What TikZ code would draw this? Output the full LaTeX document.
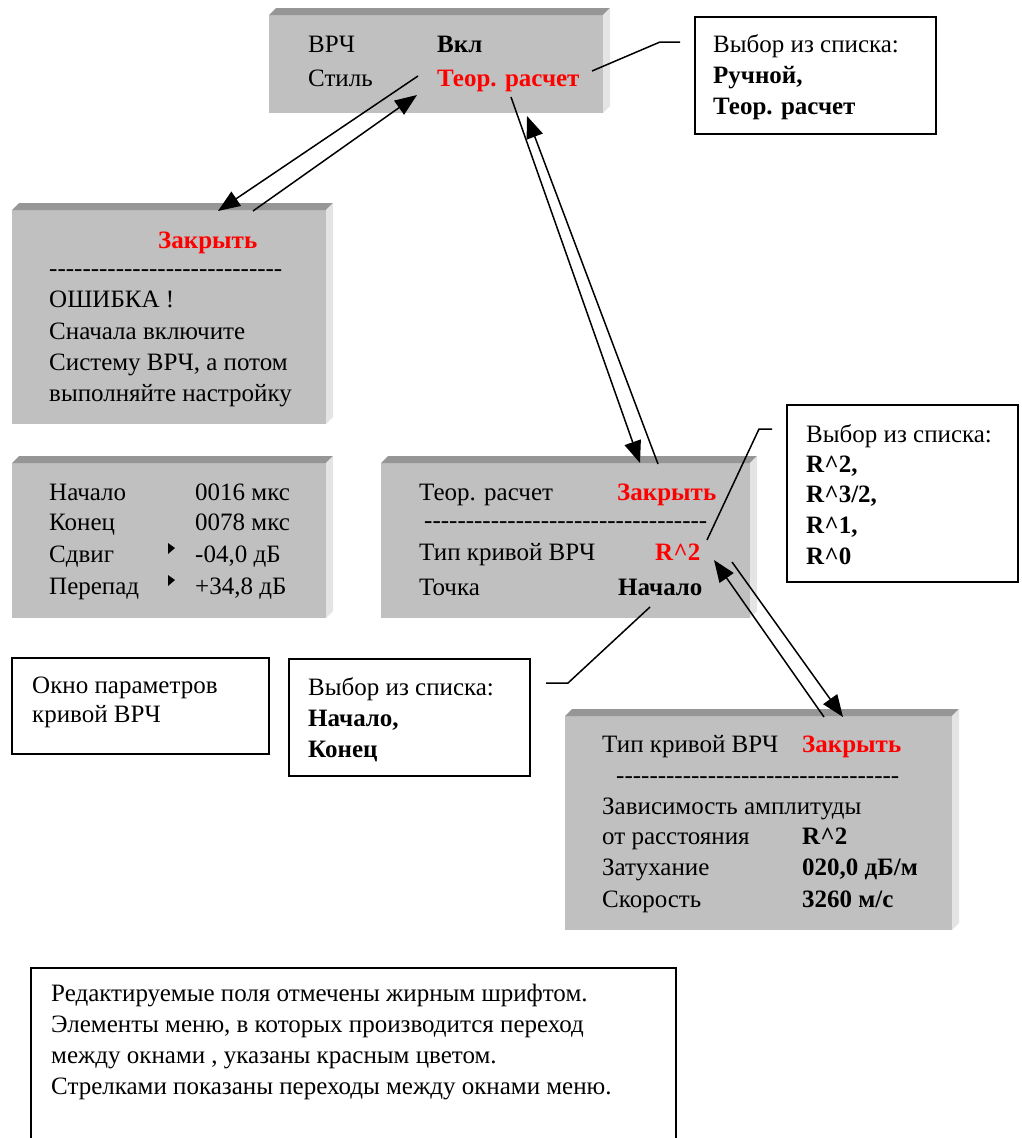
\documentclass[tikz,border=0pt]{standalone}
\usepackage{fontspec}
\setmainfont{Liberation Serif}
\usetikzlibrary{arrows.meta}

\definecolor{winface}{HTML}{C0C0C0}
\definecolor{wintop}{HTML}{969696}
\definecolor{winside}{HTML}{E4E4E4}
\definecolor{menured}{HTML}{FF0000}

\newcommand{\hyphrow}[1]{\foreach \k in {1,...,#1}{-\kern0pt}}
\newcommand{\rpow}[1]{R\textasciicircum#1}

\tikzset{
    win/.style={fill=winface, inner sep=0, outer sep=0, anchor=north west},
    note/.style={draw, line width=1.6pt, inner sep=0, outer sep=0, anchor=north west},
    txt/.style={anchor=base west, inner sep=0, font=\fontsize{25}{31}\selectfont},
    bld/.style={txt, font=\fontsize{25}{31}\selectfont\bfseries},
    sel/.style={bld, text=menured},
    go/.style={-{Triangle[length=22pt,width=17pt]}, line width=1.5pt},
    callout/.style={line width=1.5pt}
}

\begin{document}
\begin{tikzpicture}[x=1pt, y=-1pt]
    \clip (0,0) rectangle (1021,1138);

    % windows
    \node(w1) [win, minimum width=334, minimum height=98] at (269,15) {};
    \node(w2) [win, minimum width=314, minimum height=214] at (12,210) {};
    \node(w3) [win, minimum width=314, minimum height=155] at (12,463) {};
    \node(w4) [win, minimum width=369, minimum height=155] at (381,463) {};
    \node(w5) [win, minimum width=387, minimum height=214] at (565,716) {};
    \foreach \w in {w1,w2,w3,w4,w5} {
        \fill[wintop] (\w.north west) -- ++(7,-7) -- ([shift={(7,-7)}]\w.north east) -- (\w.north east) -- cycle;
        \fill[winside] (\w.north east) -- ++(7,-7) -- ([shift={(7,-7)}]\w.south east) -- (\w.south east) -- cycle;
    }

    % notes
    \node(nA) [note, minimum width=241, minimum height=117] at (695,17) {};
    \node(nB) [note, minimum width=231, minimum height=177] at (787,405) {};
    \node(nC) [note, minimum width=241, minimum height=117] at (289,659) {};
    \node(nokno) [note, minimum width=257, minimum height=96] at (12,658) {};
    \node(nlegend) [note, minimum width=645, minimum height=200] at (31,968) {};

    % window 1
    \node(w1a) [txt] at (308,52) {ВРЧ};
    \node(w1b) [bld] at (437,52) {Вкл};
    \node(w1c) [txt] at (308,86) {Стиль};
    \node(w1d) [sel] at (437,86) {Теор. расчет};

    % window 2
    \node(w2a) [sel] at (158,248) {Закрыть};
    \node(w2b) [txt] at (49,276) {\hyphrow{28}};
    \node(w2c) [txt] at (49,307) {ОШИБКА !};
    \node(w2d) [txt] at (49,339) {Сначала включите};
    \node(w2e) [txt] at (49,370) {Систему ВРЧ, а потом};
    \node(w2f) [txt] at (49,401) {выполняйте настройку};

    % window 3
    \node(w3a) [txt] at (49,500) {Начало};
    \node(w3b) [txt] at (195,500) {0016 мкс};
    \node(w3c) [txt] at (49,530) {Конец};
    \node(w3d) [txt] at (195,530) {0078 мкс};
    \node(w3e) [txt] at (49,562) {Сдвиг};
    \node(w3f) [txt] at (195,562) {-04,0 дБ};
    \node(w3g) [txt] at (49,594) {Перепад};
    \node(w3h) [txt] at (195,594) {+34,8 дБ};
    \fill (168,543) -- (175,548) -- (168,554) -- cycle;
    \fill (168,575) -- (175,580) -- (168,586) -- cycle;

    % window 4
    \node(w4a) [txt] at (419,500) {Теор. расчет};
    \node(w4b) [sel] at (617,500) {Закрыть};
    \node(w4c) [txt] at (424,528) {\hyphrow{34}};
    \node(w4d) [txt] at (419,560) {Тип кривой ВРЧ};
    \node(w4e) [sel] at (655,560) {\rpow{2}};
    \node(w4f) [txt] at (419,595) {Точка};
    \node(w4g) [bld] at (618,595) {Начало};

    % window 5
    \node(w5a) [txt] at (602,752) {Тип кривой ВРЧ};
    \node(w5b) [sel] at (802,752) {Закрыть};
    \node(w5c) [txt] at (616,783) {\hyphrow{34}};
    \node(w5d) [txt] at (602,814) {Зависимость амплитуды};
    \node(w5e) [txt] at (602,844) {от расстояния};
    \node(w5f) [bld] at (802,844) {\rpow{2}};
    \node(w5g) [txt] at (602,875) {Затухание};
    \node(w5h) [bld] at (802,875) {020,0 дБ/м};
    \node(w5i) [txt] at (602,907) {Скорость};
    \node(w5j) [bld] at (802,907) {3260 м/с};

    % note texts
    \node(nAa) [txt] at (713,52) {Выбор из списка:};
    \node(nAb) [bld] at (713,83) {Ручной,};
    \node(nAc) [bld] at (713,114) {Теор. расчет};

    \node(nBa) [txt] at (806,442) {Выбор из списка:};
    \node(nBb) [bld] at (806,472) {\rpow{2},};
    \node(nBc) [bld] at (806,502) {\rpow{3/2},};
    \node(nBd) [bld] at (806,533) {\rpow{1},};
    \node(nBe) [bld] at (806,564) {\rpow{0}};

    \node(nCa) [txt] at (308,695) {Выбор из списка:};
    \node(nCb) [bld] at (308,726) {Начало,};
    \node(nCc) [bld] at (308,757) {Конец};

    \node(noa) [txt] at (32,693) {Окно параметров};
    \node(nob) [txt] at (32,722) {кривой ВРЧ};

    \node(nla) [txt] at (51,1001) {Редактируемые поля отмечены жирным шрифтом.};
    \node(nlb) [txt] at (51,1032) {Элементы меню, в которых производится переход};
    \node(nlc) [txt] at (51,1063) {между окнами , указаны красным цветом.};
    \node(nld) [txt] at (51,1094) {Стрелками показаны переходы между окнами меню.};

    % arrow ends
    \coordinate(s1) at (418,76);
    \coordinate(t1) at (218,211);
    \coordinate(s2) at (253,211);
    \coordinate(t2) at (417,95);
    \coordinate(s3) at (511,97);
    \coordinate(t3) at (640,463);
    \coordinate(s4) at (658,464);
    \coordinate(t4) at (527,116);
    \coordinate(s5) at (824,717);
    \coordinate(t5) at (714,560);
    \coordinate(s6) at (732,562);
    \coordinate(t6) at (843,717);

    \draw[go] (s1) -- (t1);
    \draw[go] (s2) -- (t2);
    \draw[go] (s3) -- (t3);
    \draw[go] (s4) -- (t4);
    \draw[go] (s5) -- (t5);
    \draw[go] (s6) -- (t6);

    % callouts
    \coordinate(cA1) at (592,71);
    \coordinate(cA2) at (660,42);
    \coordinate(cA3) at (680,42);
    \coordinate(cB1) at (707,540);
    \coordinate(cB2) at (759,429);
    \coordinate(cB3) at (772,429);
    \coordinate(cC1) at (650,607);
    \coordinate(cC2) at (568,683);
    \coordinate(cC3) at (546,683);

    \draw[callout] (cA1) -- (cA2) -- (cA3);
    \draw[callout] (cB1) -- (cB2) -- (cB3);
    \draw[callout] (cC1) -- (cC2) -- (cC3);
\end{tikzpicture}
\end{document}
